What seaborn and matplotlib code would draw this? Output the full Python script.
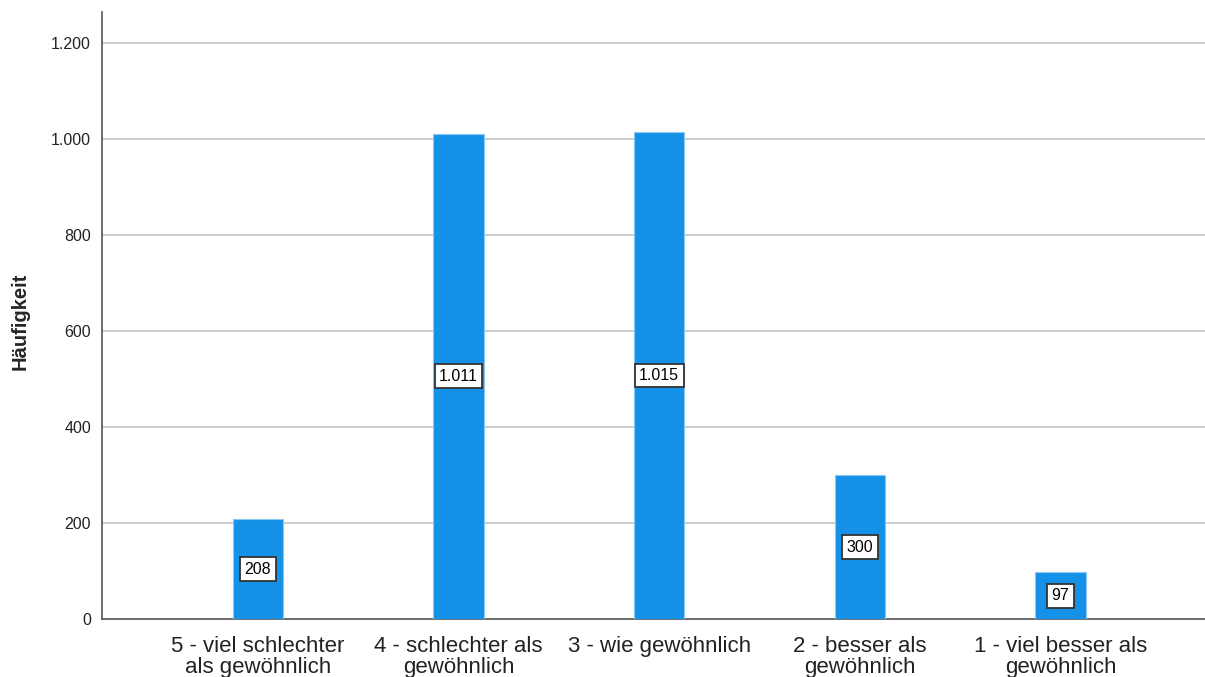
import matplotlib

matplotlib.use("Agg")
import matplotlib.pyplot as plt
import pandas as pd
import seaborn as sns

# Häufigkeiten je Antwortkategorie
CATEGORIES = [
    "5 - viel schlechter\nals gewöhnlich",
    "4 - schlechter als\ngewöhnlich",
    "3 - wie gewöhnlich",
    "2 - besser als\ngewöhnlich",
    "1 - viel besser als\ngewöhnlich",
]
COUNTS = [208, 1011, 1015, 300, 97]
Y_TICKS = [0, 200, 400, 600, 800, 1000, 1200]

BAR_COLOR = "#1591E8"

sns.set_theme(style="white")
plt.rcParams["font.family"] = ["Liberation Sans", "DejaVu Sans"]


def fmt_de(v: int) -> str:
    # German thousands separator
    return f"{v:,}".replace(",", ".")


df = pd.DataFrame({"cat": CATEGORIES, "n": COUNTS})

fig = plt.figure(figsize=(12.05, 6.77), dpi=100)
ax = fig.add_axes([102 / 1205, 58 / 677, 1 - 102 / 1205, 607 / 677])

sns.barplot(data=df, x="cat", y="n", ax=ax, color=BAR_COLOR, width=0.25,
            edgecolor="#8cc8f2", linewidth=0.8, saturation=1, zorder=3)

for i, v in enumerate(COUNTS):
    ax.text(i, v / 2, fmt_de(v), ha="center", va="center", fontsize=11.5,
            color="black", zorder=4,
            bbox=dict(boxstyle="square,pad=0.28", fc="white", ec="#333333", lw=1.3))

ax.set_xlim(-0.777, 4.72)
ax.set_ylim(0, 1265)
ax.set_yticks(Y_TICKS)
ax.set_yticklabels([fmt_de(t) for t in Y_TICKS], fontsize=11.5, color="#222222")
ax.yaxis.grid(True, color="#c8c8c8", lw=1.3, zorder=0)
ax.tick_params(axis="x", labelsize=16, colors="#222222", pad=12, length=0)
ax.tick_params(axis="y", length=0, pad=8)
for lbl in ax.get_xticklabels():
    lbl.set_linespacing(1.05)

ax.set_xlabel("")
ax.set_ylabel("Häufigkeit", fontsize=14.5, fontweight="bold")
ax.yaxis.set_label_coords(-0.066, 0.49)

for side in ("top", "right"):
    ax.spines[side].set_visible(False)
for side in ("left", "bottom"):
    ax.spines[side].set_color("#555555")
    ax.spines[side].set_linewidth(1.2)

fig.savefig("out.png", dpi=100)
